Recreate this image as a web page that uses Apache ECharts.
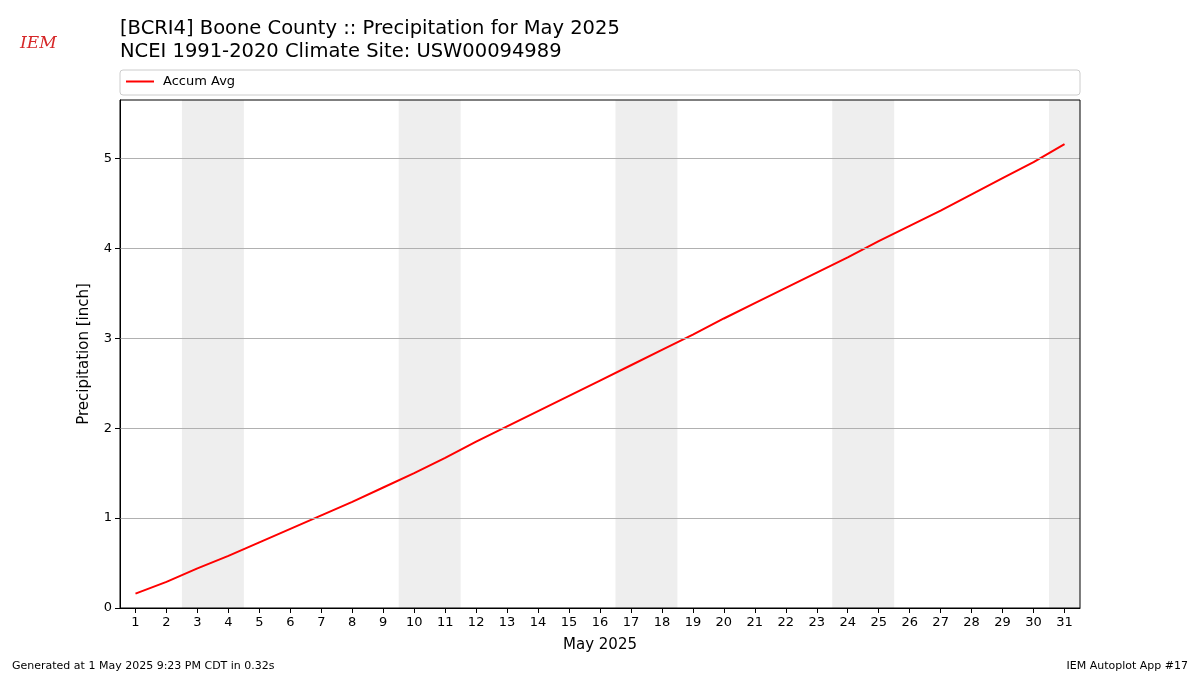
<!DOCTYPE html>
<html><head><meta charset="utf-8">
<script src="https://cdn.jsdelivr.net/npm/echarts@6/dist/echarts.min.js"></script>
<style>html,body{margin:0;padding:0;background:#fff}#c{width:1200px;height:675px}</style>
</head><body><div id="c"></div>
<script>
const days = Array.from({length:31},(_,i)=>i+1);
const accumAvg = [0.16,0.29,0.44,0.58,0.73,0.88,1.03,1.18,1.34,1.50,1.67,1.85,2.02,2.19,2.36,2.53,2.70,2.87,3.04,3.22,3.39,3.56,3.73,3.90,4.08,4.25,4.42,4.60,4.78,4.96,5.16];
const weekends = [[2.5,4.5],[9.5,11.5],[16.5,18.5],[23.5,25.5],[30.5,31.5]];
const yTicks = [0,1,2,3,4,5];
const F = 'DejaVu Sans';
const chart = echarts.init(document.getElementById('c'));
chart.setOption({
  animation:false,
  textStyle:{fontFamily:F},
  title:[
    {text:'[BCRI4] Boone County :: Precipitation for May 2025\nNCEI 1991-2020 Climate Site: USW00094989',left:115,top:12,textStyle:{fontFamily:F,fontSize:19.5,fontWeight:'normal',color:'#000',lineHeight:23}},
    {text:'Generated at 1 May 2025 9:23 PM CDT in 0.32s',left:7,top:656,textStyle:{fontFamily:F,fontSize:11,fontWeight:'normal',color:'#000'}},
    {text:'IEM Autoplot App #17',right:7,top:656,textStyle:{fontFamily:F,fontSize:11,fontWeight:'normal',color:'#000'}},
    {text:'IEM',left:15,top:30,textStyle:{fontFamily:'DejaVu Serif',fontStyle:'italic',fontSize:17,fontWeight:'normal',color:'#d62728'}}
  ],
  graphic:[
    {type:'rect',shape:{x:120,y:70,width:960,height:25,r:3},style:{fill:'rgba(0,0,0,0)',stroke:'#ccc'}},
    {type:'rect',shape:{x:120,y:100,width:960,height:508},style:{fill:'none',stroke:'#000'},z:10}
  ],
  legend:{left:121,top:70,itemWidth:28,itemHeight:2,itemGap:10,textStyle:{fontFamily:F,fontSize:13,color:'#000',padding:[0,0,0,4]},data:[{name:'Accum Avg',icon:'rect'}]},
  grid:{left:120,right:120,top:100,bottom:67},
  xAxis:{type:'value',min:0.5,max:31.5,name:'May 2025',nameLocation:'middle',nameGap:30,nameTextStyle:{fontSize:15,color:'#000'},
    axisLine:{onZero:false,lineStyle:{color:'#000'}},
    axisTick:{customValues:days,lineStyle:{color:'#000'}},
    axisLabel:{customValues:days,fontSize:13,color:'#000'},splitLine:{show:false}},
  yAxis:{type:'value',min:0,max:5.65,name:'Precipitation [inch]',nameLocation:'middle',nameGap:28,nameTextStyle:{fontSize:15,color:'#000'},
    axisLine:{show:true,lineStyle:{color:'#000'}},
    axisTick:{show:true,customValues:yTicks,lineStyle:{color:'#000'}},
    axisLabel:{customValues:yTicks,fontSize:13,color:'#000'},
    splitLine:{show:false}},
  series:[
    {name:'weekend',type:'line',data:[],z:1,markArea:{silent:true,itemStyle:{color:'#eeeeee'},data:weekends.map(w=>[{xAxis:w[0]},{xAxis:w[1]}])}},
    {name:'grid',type:'line',data:[],z:2,markLine:{silent:true,symbol:'none',label:{show:false},lineStyle:{color:'#b0b0b0',type:'solid',width:1},data:yTicks.slice(1).map(v=>({yAxis:v}))}},
    {name:'Accum Avg',type:'line',data:days.map((d,i)=>[d,accumAvg[i]]),showSymbol:false,lineStyle:{color:'#ff0000',width:2},itemStyle:{color:'#ff0000'},z:3}
  ]
});
</script></body></html>
